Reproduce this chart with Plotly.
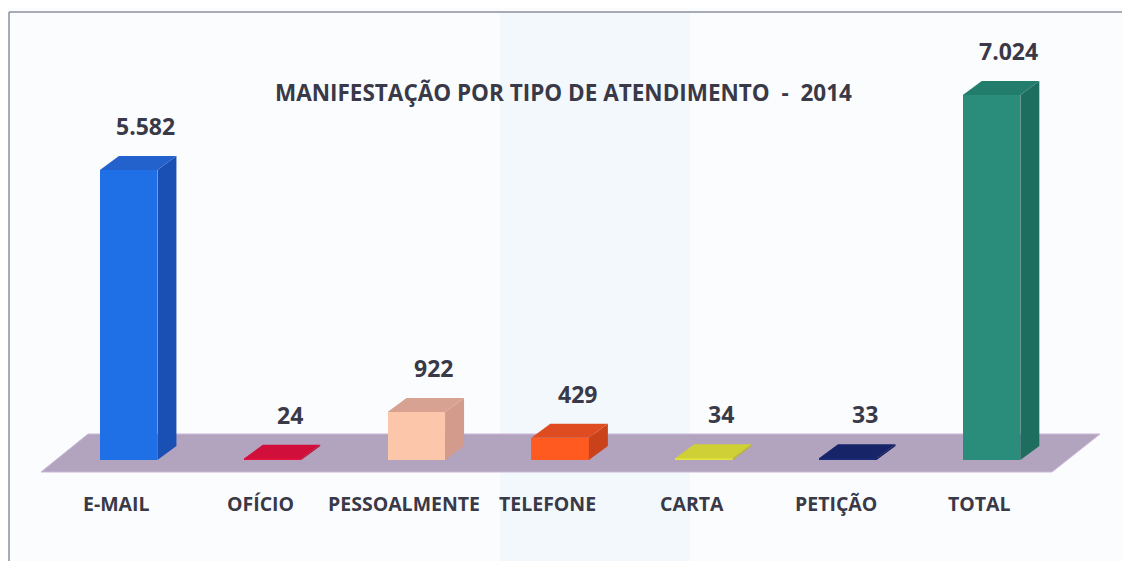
import plotly.graph_objects as go

# ---- data ----
categories = ["E-MAIL", "OFÍCIO", "PESSOALMENTE", "TELEFONE", "CARTA", "PETIÇÃO", "TOTAL"]
values = [5582, 24, 922, 429, 34, 33, 7024]
title_text = "MANIFESTAÇÃO POR TIPO DE ATENDIMENTO\u00a0\u00a0-\u00a0\u00a02014"

# ---- styles ----
front_colors = ["#1f6fe6", "#e8123e", "#fcc6ab", "#ff5a1f", "#e2e23c", "#1b2a78", "#2a8c7a"]
side_colors = ["#1a4fb4", "#b80e30", "#d39b8c", "#c9421a", "#b7b72c", "#121e5a", "#1d6e5e"]
top_colors = ["#2361cc", "#d0103a", "#d8a292", "#e04c22", "#cfcf36", "#172468", "#237d6c"]
text_color = "#393947"
font_family = "'Open Sans', Lato, sans-serif"

# page offset (browser body margin) and axis geometry
OFF = 8
PLOT_L, PLOT_T = 28, 20          # page px of plot area top-left
X_RANGE = [-0.7, 6.9]
Y_RANGE = [-385, 8470]
PLOT_W, PLOT_H = 1093, 460
PLOT_B = PLOT_T + PLOT_H
ux = PLOT_W / (X_RANGE[1] - X_RANGE[0])   # px per x unit
uy = (Y_RANGE[1] - Y_RANGE[0]) / PLOT_H   # y units per px
BAR_W = 0.4
DX = 19 / ux        # depth offset, x
DY = 14 * uy        # depth offset, y


def px_x(p):
    return (p - PLOT_L) / PLOT_W


def px_y(p):
    return (PLOT_B - p) / PLOT_H


fig = go.Figure()

xs = list(range(len(categories)))

# front faces
fig.add_trace(go.Bar(
    x=xs, y=values, width=BAR_W,
    marker=dict(color=front_colors, line=dict(width=0)),
    showlegend=False, hoverinfo="skip",
))

# side and top faces derived from the values
for i, v in enumerate(values):
    r = i + BAR_W / 2
    l = i - BAR_W / 2
    fig.add_trace(go.Scatter(
        x=[r, r + DX, r + DX, r, r], y=[0, DY, v + DY, v, 0],
        fill="toself", fillcolor=side_colors[i], mode="lines",
        line=dict(width=0, color=side_colors[i]), showlegend=False, hoverinfo="skip",
    ))
    fig.add_trace(go.Scatter(
        x=[l, r, r + DX, l + DX, l], y=[v, v, v + DY, v + DY, v],
        fill="toself", fillcolor=top_colors[i], mode="lines",
        line=dict(width=0, color=top_colors[i]), showlegend=False, hoverinfo="skip",
    ))

annotations = []
for i, v in enumerate(values):
    annotations.append(dict(
        x=i + 0.12, y=v + DY, xref="x", yref="y", yanchor="bottom", yshift=12,
        text=f"{v:,}".replace(",", "."), showarrow=False,
        font=dict(family=font_family, size=23, color=text_color, weight="bold"),
    ))
    annotations.append(dict(
        x=i - 0.085, y=px_y(503), xref="x", yref="paper", yanchor="middle",
        text=categories[i], showarrow=False,
        font=dict(family=font_family, size=19.5, color=text_color, weight="bold"),
    ))
annotations.append(dict(
    x=px_x(563), y=px_y(92), xref="paper", yref="paper",
    xanchor="center", yanchor="middle", text=title_text, showarrow=False,
    font=dict(family=font_family, size=22.5, color=text_color, weight="bold"),
))

# floor (decoration, in data coords)
x0 = PLOT_L + (0 - X_RANGE[0]) * ux   # page px of category 0
y0 = PLOT_B - (0 - Y_RANGE[0]) / uy   # page px of value 0
fl = [((41 - x0) / ux, (y0 - 472) * uy), ((1052 - x0) / ux, (y0 - 472) * uy),
      ((1100 - x0) / ux, (y0 - 434) * uy), ((88 - x0) / ux, (y0 - 434) * uy)]
floor_path = "M " + " L ".join(f"{a},{b}" for a, b in fl) + " Z"

shapes = [
    # faint scanner band
    dict(type="rect", xref="paper", yref="paper",
         x0=px_x(500), x1=px_x(690), y0=px_y(561), y1=px_y(12),
         fillcolor="#eaf4fa", line=dict(width=0), layer="below", opacity=0.5),
    dict(type="path", path=floor_path, xref="x", yref="y",
         fillcolor="#b2a3bf", line=dict(color="#cdb6da", width=1), layer="below"),
    # frame lines
    dict(type="line", xref="paper", yref="paper",
         x0=px_x(9), x1=px_x(1135), y0=px_y(12), y1=px_y(12),
         line=dict(color="#8c909c", width=1.5)),
    dict(type="line", xref="paper", yref="paper",
         x0=px_x(9), x1=px_x(9), y0=px_y(12), y1=px_y(565),
         line=dict(color="#8c909c", width=1.5)),
]

FIG_W, FIG_H = 1130 - OFF, 561 - OFF
fig.update_layout(
    width=FIG_W, height=FIG_H,
    margin=dict(l=PLOT_L - OFF, r=FIG_W - (PLOT_L - OFF) - PLOT_W,
                t=PLOT_T - OFF, b=FIG_H - (PLOT_T - OFF) - PLOT_H),
    paper_bgcolor="#fbfcfe", plot_bgcolor="rgba(0,0,0,0)",
    xaxis=dict(range=X_RANGE, visible=False, fixedrange=True),
    yaxis=dict(range=Y_RANGE, visible=False, fixedrange=True),
    annotations=annotations, shapes=shapes, showlegend=False,
    bargap=0,
)

fig.write_html("out.html")
